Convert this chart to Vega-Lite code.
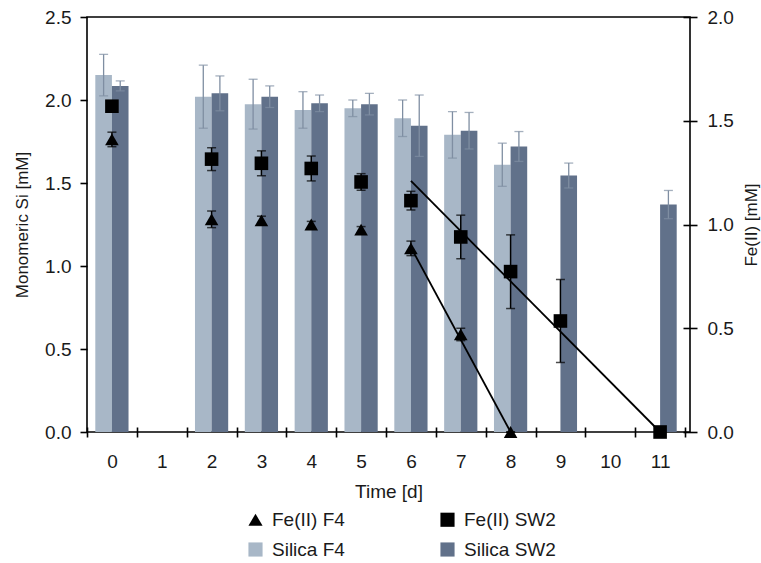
{
  "$schema": "https://vega.github.io/schema/vega-lite/v6.json",
  "width": 603,
  "height": 415,
  "autosize": {"type": "none"},
  "padding": {"left": 87, "top": 17, "right": 71, "bottom": 131},
  "background": "white",
  "config": {
    "font": "Liberation Sans",
    "view": {"stroke": "#000", "strokeWidth": 1.6},
    "axis": {
      "grid": false,
      "domain": false,
      "labelFont": "Liberation Sans",
      "labelFontSize": 19,
      "labelColor": "#1a1a1a",
      "tickColor": "#000",
      "tickWidth": 1.6,
      "titleFont": "Liberation Sans",
      "titleFontWeight": "normal",
      "titleColor": "#1a1a1a"
    },
    "legend": {
      "orient": "none",
      "legendX": 159,
      "legendY": 493,
      "columns": 2,
      "direction": "horizontal",
      "labelFont": "Liberation Sans",
      "labelFontSize": 19,
      "labelColor": "#1a1a1a",
      "labelOffset": 7,
      "symbolSize": 200,
      "symbolStrokeWidth": 0,
      "rowPadding": 10,
      "columnPadding": 93,
      "padding": 0
    }
  },
  "datasets": {
    "silica": [
      {"day": 0, "series": "Silica F4", "si": 2.15, "lo": 2.025, "hi": 2.275},
      {"day": 0, "series": "Silica SW2", "si": 2.085, "lo": 2.055, "hi": 2.115},
      {"day": 2, "series": "Silica F4", "si": 2.02, "lo": 1.83, "hi": 2.21},
      {"day": 2, "series": "Silica SW2", "si": 2.04, "lo": 1.935, "hi": 2.145},
      {"day": 3, "series": "Silica F4", "si": 1.975, "lo": 1.825, "hi": 2.125},
      {"day": 3, "series": "Silica SW2", "si": 2.02, "lo": 1.955, "hi": 2.085},
      {"day": 4, "series": "Silica F4", "si": 1.94, "lo": 1.83, "hi": 2.05},
      {"day": 4, "series": "Silica SW2", "si": 1.98, "lo": 1.93, "hi": 2.03},
      {"day": 5, "series": "Silica F4", "si": 1.95, "lo": 1.9, "hi": 2.0},
      {"day": 5, "series": "Silica SW2", "si": 1.975, "lo": 1.91, "hi": 2.04},
      {"day": 6, "series": "Silica F4", "si": 1.89, "lo": 1.78, "hi": 2.0},
      {"day": 6, "series": "Silica SW2", "si": 1.845, "lo": 1.66, "hi": 2.03},
      {"day": 7, "series": "Silica F4", "si": 1.79, "lo": 1.65, "hi": 1.93},
      {"day": 7, "series": "Silica SW2", "si": 1.815, "lo": 1.705, "hi": 1.925},
      {"day": 8, "series": "Silica F4", "si": 1.61, "lo": 1.48, "hi": 1.74},
      {"day": 8, "series": "Silica SW2", "si": 1.72, "lo": 1.63, "hi": 1.81},
      {"day": 9, "series": "Silica SW2", "si": 1.545, "lo": 1.47, "hi": 1.62},
      {"day": 11, "series": "Silica SW2", "si": 1.37, "lo": 1.285, "hi": 1.455}
    ],
    "fe": [
      {"day": 0, "series": "Fe(II) F4", "fe": 1.41, "lo": 1.375, "hi": 1.445},
      {"day": 2, "series": "Fe(II) F4", "fe": 1.025, "lo": 0.985, "hi": 1.065},
      {"day": 3, "series": "Fe(II) F4", "fe": 1.02, "lo": 1.0, "hi": 1.04},
      {"day": 4, "series": "Fe(II) F4", "fe": 1.0, "lo": 0.985, "hi": 1.015},
      {"day": 5, "series": "Fe(II) F4", "fe": 0.975, "lo": 0.96, "hi": 0.99},
      {"day": 6, "series": "Fe(II) F4", "fe": 0.885, "lo": 0.85, "hi": 0.92},
      {"day": 7, "series": "Fe(II) F4", "fe": 0.47, "lo": 0.44, "hi": 0.5},
      {"day": 8, "series": "Fe(II) F4", "fe": 0.0, "lo": 0.0, "hi": 0.0},
      {"day": 0, "series": "Fe(II) SW2", "fe": 1.57, "lo": 1.55, "hi": 1.59},
      {"day": 2, "series": "Fe(II) SW2", "fe": 1.315, "lo": 1.26, "hi": 1.37},
      {"day": 3, "series": "Fe(II) SW2", "fe": 1.295, "lo": 1.235, "hi": 1.355},
      {"day": 4, "series": "Fe(II) SW2", "fe": 1.27, "lo": 1.21, "hi": 1.33},
      {"day": 5, "series": "Fe(II) SW2", "fe": 1.205, "lo": 1.165, "hi": 1.245},
      {"day": 6, "series": "Fe(II) SW2", "fe": 1.115, "lo": 1.07, "hi": 1.16},
      {"day": 7, "series": "Fe(II) SW2", "fe": 0.94, "lo": 0.835, "hi": 1.045},
      {"day": 8, "series": "Fe(II) SW2", "fe": 0.773, "lo": 0.595, "hi": 0.95},
      {"day": 9, "series": "Fe(II) SW2", "fe": 0.535, "lo": 0.335, "hi": 0.735},
      {"day": 11, "series": "Fe(II) SW2", "fe": 0.0, "lo": 0.0, "hi": 0.0}
    ],
    "trend": [
      {"day": 6, "series": "Fe(II) F4", "fe": 0.89},
      {"day": 8, "series": "Fe(II) F4", "fe": 0.0},
      {"day": 6, "series": "Fe(II) SW2", "fe": 1.21},
      {"day": 11, "series": "Fe(II) SW2", "fe": 0.0}
    ]
  },
  "encoding": {
    "x": {
      "field": "day",
      "type": "ordinal",
      "scale": {"domain": [0, 1, 2, 3, 4, 5, 6, 7, 8, 9, 10, 11], "paddingInner": 0, "paddingOuter": 0.05, "align": 0},
      "axis": {
        "title": "Time [d]",
        "titleFontSize": 19,
        "labelAngle": 0,
        "tickBand": "extent",
        "offset": -5,
        "tickSize": 10,
        "labelPadding": 15,
        "titleX": 301.5,
        "titleY": 70,
        "titleAlign": "center",
        "titleBaseline": "alphabetic"
      }
    }
  },
  "layer": [
    {
      "data": {"name": "silica"},
      "layer": [
        {
          "mark": {"type": "bar"},
          "encoding": {
            "xOffset": {"field": "series", "type": "nominal", "scale": {"domain": ["Silica F4", "Silica SW2"], "paddingInner": 0, "paddingOuter": 0.5}},
            "y": {
              "field": "si",
              "type": "quantitative",
              "title": "Monomeric Si [mM]",
              "scale": {"domain": [0, 2.5], "nice": false, "zero": true},
              "axis": {
                "orient": "left",
                "values": [0, 0.5, 1, 1.5, 2, 2.5],
                "format": ".1f",
                "tickSize": 7,
                "labelPadding": 9,
                "titleFontSize": 17,
                "titleAngle": -90,
                "titleX": -65,
                "titleY": 207.5,
                "titleAlign": "center",
                "titleBaseline": "middle"
              }
            },
            "color": {
              "field": "series",
              "type": "nominal",
              "title": null,
              "scale": {"domain": ["Fe(II) F4", "Fe(II) SW2", "Silica F4", "Silica SW2"], "range": ["#000000", "#000000", "#a8b7c7", "#61718a"]}
            }
          }
        },
        {
          "mark": {"type": "rule", "color": "#7f8ea2", "strokeWidth": 1.3},
          "encoding": {
            "xOffset": {"field": "series", "type": "nominal", "scale": {"domain": ["Silica F4", "Silica SW2"], "paddingInner": 0, "paddingOuter": 0.5}},
            "y": {"field": "lo", "type": "quantitative", "title": "Monomeric Si [mM]"},
            "y2": {"field": "hi"}
          }
        },
        {
          "mark": {"type": "tick", "orient": "horizontal", "color": "#7f8ea2", "thickness": 1.3, "size": 9},
          "encoding": {
            "xOffset": {"field": "series", "type": "nominal", "scale": {"domain": ["Silica F4", "Silica SW2"], "paddingInner": 0, "paddingOuter": 0.5}},
            "y": {"field": "hi", "type": "quantitative", "title": "Monomeric Si [mM]"}
          }
        },
        {
          "mark": {"type": "tick", "orient": "horizontal", "color": "#7f8ea2", "thickness": 1.3, "size": 9},
          "encoding": {
            "xOffset": {"field": "series", "type": "nominal", "scale": {"domain": ["Silica F4", "Silica SW2"], "paddingInner": 0, "paddingOuter": 0.5}},
            "y": {"field": "lo", "type": "quantitative", "title": "Monomeric Si [mM]"}
          }
        }
      ]
    },
    {
      "layer": [
        {
          "data": {"name": "trend"},
          "mark": {"type": "line", "color": "#000", "strokeWidth": 1.8},
          "encoding": {
            "y": {
              "field": "fe",
              "type": "quantitative",
              "title": "Fe(II) [mM]",
              "scale": {"domain": [0, 2], "nice": false},
              "axis": {
                "orient": "right",
                "values": [0, 0.5, 1, 1.5, 2],
                "format": ".1f",
                "offset": -7,
                "tickSize": 14,
                "labelPadding": 10,
                "titleFontSize": 17,
                "titleAngle": -90,
                "titleX": 68,
                "titleY": 207.5,
                "titleAlign": "center",
                "titleBaseline": "middle"
              }
            },
            "detail": {"field": "series", "type": "nominal"}
          }
        },
        {
          "data": {"name": "fe"},
          "mark": {"type": "rule", "color": "#000", "strokeWidth": 1.5},
          "encoding": {
            "y": {"field": "lo", "type": "quantitative", "title": "Fe(II) [mM]"},
            "y2": {"field": "hi"}
          }
        },
        {
          "data": {"name": "fe"},
          "mark": {"type": "tick", "orient": "horizontal", "color": "#000", "thickness": 1.5, "size": 9},
          "encoding": {
            "y": {"field": "hi", "type": "quantitative", "title": "Fe(II) [mM]"}
          }
        },
        {
          "data": {"name": "fe"},
          "mark": {"type": "tick", "orient": "horizontal", "color": "#000", "thickness": 1.5, "size": 9},
          "encoding": {
            "y": {"field": "lo", "type": "quantitative", "title": "Fe(II) [mM]"}
          }
        },
        {
          "data": {"name": "fe"},
          "mark": {"type": "point", "filled": true, "opacity": 1, "size": 185},
          "encoding": {
            "y": {"field": "fe", "type": "quantitative", "title": "Fe(II) [mM]"},
            "color": {"field": "series", "type": "nominal", "title": null},
            "shape": {
              "field": "series",
              "type": "nominal",
              "title": null,
              "scale": {"domain": ["Fe(II) F4", "Fe(II) SW2", "Silica F4", "Silica SW2"], "range": ["triangle-up", "square", "square", "square"]}
            }
          }
        }
      ]
    }
  ],
  "resolve": {"scale": {"y": "independent"}}
}
